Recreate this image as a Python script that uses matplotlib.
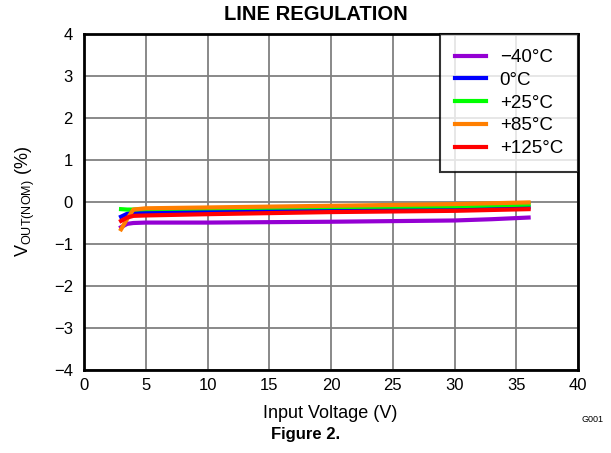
import matplotlib.pyplot as plt

plt.rcParams['font.family'] = ['Liberation Sans', 'DejaVu Sans']

# Input voltage (V)
vin = [3.0, 3.5, 4.0, 5.0, 10.0, 20.0, 30.0, 33.0, 36.0]

# Output deviation (%) per temperature
v_m40 = [-0.60, -0.52, -0.50, -0.49, -0.49, -0.47, -0.44, -0.41, -0.37]
v_0 = [-0.35, -0.28, -0.25, -0.24, -0.21, -0.17, -0.14, -0.14, -0.13]
v_25 = [-0.17, -0.18, -0.18, -0.17, -0.15, -0.12, -0.10, -0.08, -0.06]
v_85 = [-0.65, -0.40, -0.18, -0.15, -0.13, -0.09, -0.05, -0.03, -0.01]
v_125 = [-0.45, -0.37, -0.33, -0.32, -0.29, -0.24, -0.21, -0.19, -0.17]

series = [
    ('\u221240\u00b0C', v_m40, '#9400d3'),
    ('0\u00b0C', v_0, '#0000ff'),
    ('+25\u00b0C', v_25, '#00ff00'),
    ('+85\u00b0C', v_85, '#ff7f00'),
    ('+125\u00b0C', v_125, '#ff0000'),
]

W, H = 611, 453
fig = plt.figure(figsize=(W / 100, H / 100), dpi=100)
ax = fig.add_axes([84 / W, 1 - 370 / H, (578 - 84) / W, (370 - 34) / H])

for label, vals, col in series:
    ax.plot(vin, vals, color=col, linewidth=3, label=label)

ax.set_xlim(0, 40)
ax.set_ylim(-4, 4)
ax.set_xticks(range(0, 41, 5))
ax.set_yticks(range(-4, 5))
ax.set_yticklabels([str(v).replace('-', '\u2212') for v in range(-4, 5)])
ax.grid(True, color='#808080', linewidth=1.3)
ax.set_axisbelow(True)
for s in ax.spines.values():
    s.set_linewidth(2)
ax.tick_params(labelsize=12, length=0)
ax.tick_params(axis='y', pad=8)
ax.tick_params(axis='x', pad=6)

ax.set_xlabel('Input Voltage (V)', fontsize=13)
ax.xaxis.set_label_coords((330 - 84) / 494, -(413 - 370) / 336)
ax.set_ylabel('V$_{\\mathregular{OUT(NOM)}}$ (%)', fontsize=13)
ax.yaxis.set_label_coords((25 - 84) / 494, 0.5)
for t in (ax.xaxis.label, ax.yaxis.label):
    t.set_va('center')

fig.text(316 / W, 1 - 15 / H, 'LINE REGULATION', ha='center', va='center',
         fontsize=14.5, fontweight='bold')

leg = ax.legend(loc='upper right', fontsize=13.5, frameon=True, fancybox=False,
                edgecolor='black', handlelength=1.65, handletextpad=0.75,
                borderaxespad=0, labelspacing=0.3, borderpad=0.8)
leg.get_frame().set_linewidth(1.5)

fig.text(0.5, 1 - 435 / H, 'Figure 2.', ha='center', va='center', fontsize=12, fontweight='bold')
fig.text(593 / W, 1 - 420 / H, 'G001', ha='center', va='center', fontsize=6.5)

fig.savefig('out.png', dpi=100)
